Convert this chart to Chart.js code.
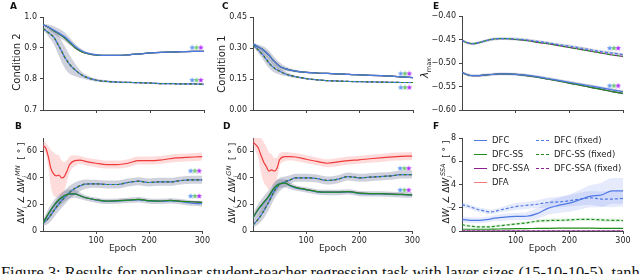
<!DOCTYPE html>
<html>
<head>
<meta charset="utf-8">
<script src="https://cdn.jsdelivr.net/npm/chart.js@4.4.0/dist/chart.umd.min.js"></script>
<style>
body{margin:0;width:640px;height:274px;background:#fff;position:relative;overflow:hidden;font-family:'DejaVu Sans',sans-serif;color:#222;}
canvas{position:absolute;}
.lab{position:absolute;font-weight:bold;font-size:9px;line-height:9px;color:#111;}
.yt{position:absolute;font-size:10px;line-height:12px;white-space:nowrap;transform:translate(-50%,-50%) rotate(-90deg);}
.yt i{font-style:italic;}
.yt sub,.yt sup{font-size:6.5px;line-height:0;}
#legend{position:absolute;left:474px;top:134px;font-size:8.5px;}
.li{position:absolute;white-space:nowrap;height:12px;line-height:12px;}
.li span.s{position:absolute;left:0;top:6px;width:13px;height:0;}
.li span.t{position:absolute;left:18px;top:0;}
#caption{position:absolute;left:1px;top:265px;font-family:'Liberation Serif',serif;font-size:16.4px;line-height:16px;white-space:nowrap;color:#111;}
</style>
</head>
<body>
<canvas id="cA" width="212" height="122" style="left:0;top:0"></canvas>
<canvas id="cC" width="210" height="122" style="left:212px;top:0"></canvas>
<canvas id="cE" width="218" height="122" style="left:422px;top:0"></canvas>
<canvas id="cB" width="212" height="132" style="left:0;top:122px"></canvas>
<canvas id="cD" width="210" height="132" style="left:212px;top:122px"></canvas>
<canvas id="cF" width="218" height="132" style="left:422px;top:122px"></canvas>

<div class="lab" style="left:10px;top:2px">A</div>
<div class="lab" style="left:222px;top:2px">C</div>
<div class="lab" style="left:433px;top:2px">E</div>
<div class="lab" style="left:15px;top:122px">B</div>
<div class="lab" style="left:223px;top:122px">D</div>
<div class="lab" style="left:433px;top:122px">F</div>

<div class="yt" style="left:17px;top:62px">Condition 2</div>
<div class="yt" style="left:222px;top:64px">Condition 1</div>
<div class="yt" style="left:425px;top:68px"><i>λ</i><sub>max</sub></div>
<div class="yt" style="left:21px;top:183px;font-size:9px">Δ<i>W<sub>i</sub></i> ∠ Δ<i>W<sub>i</sub></i><sup><i>MN</i></sup> &nbsp;[ ° ]</div>
<div class="yt" style="left:232px;top:183px;font-size:9px">Δ<i>W<sub>i</sub></i> ∠ Δ<i>W<sub>i</sub></i><sup><i>GN</i></sup> &nbsp;[ ° ]</div>
<div class="yt" style="left:446px;top:182px;font-size:9px">Δ<i>W<sub>i</sub></i> ∠ Δ<i>W<sub>i</sub></i><sup><i>SSA</i></sup> &nbsp;[ ° ]</div>

<div id="legend"></div>
<div id="caption">Figure 3: Results for nonlinear student-teacher regression task with layer sizes (15-10-10-5), tanh</div>

<script>
Chart.defaults.font.family = 'DejaVu Sans'

// epochs
const epochs = [0,10,20,30,40,50,60,70,80,100,120,140,160,180,200,220,240,260,280,300]
const dfaEpochs = [0,5,10,15,20,25,30,35,40,45,50,60,70,80,100,120,140,160,180,200,220,250,270,300]
const xTicks = [100,200,300]

// A: condition 2
const aSolid   = [0.975,0.968,0.958,0.948,0.937,0.921,0.905,0.893,0.885,0.878,0.876,0.876,0.878,0.881,0.884,0.886,0.887,0.888,0.889,0.889]
const aSolidSS = [0.975,0.967,0.956,0.945,0.933,0.917,0.901,0.890,0.883,0.877,0.876,0.876,0.878,0.881,0.884,0.886,0.887,0.888,0.889,0.889]
const aSolidSd = [0.004,0.008,0.012,0.014,0.014,0.012,0.009,0.006,0.004,0.003,0.002,0.002,0.002,0.002,0.002,0.002,0.002,0.002,0.002,0.002]
const aFixed   = [0.963,0.950,0.935,0.905,0.872,0.846,0.829,0.815,0.806,0.796,0.792,0.790,0.789,0.788,0.787,0.785,0.785,0.784,0.784,0.783]
const aFixedSd = [0.006,0.012,0.022,0.032,0.035,0.030,0.020,0.012,0.008,0.005,0.004,0.003,0.003,0.003,0.003,0.003,0.003,0.003,0.003,0.003]
const aStarY = [0.902, 0.797]

// C: condition 1
const cSolid   = [0.320,0.305,0.289,0.265,0.235,0.212,0.200,0.193,0.188,0.182,0.179,0.177,0.175,0.172,0.170,0.168,0.166,0.164,0.160,0.157]
const cSolidSd = [0.006,0.012,0.018,0.022,0.022,0.018,0.012,0.008,0.006,0.004,0.004,0.003,0.003,0.003,0.003,0.003,0.003,0.003,0.003,0.003]
const cFixed   = [0.315,0.290,0.262,0.228,0.203,0.188,0.175,0.167,0.161,0.152,0.146,0.142,0.140,0.138,0.137,0.136,0.135,0.134,0.133,0.133]
const cFixedSd = [0.008,0.015,0.022,0.025,0.022,0.016,0.011,0.008,0.006,0.004,0.004,0.003,0.003,0.003,0.003,0.003,0.003,0.003,0.003,0.003]
const cStarY = [0.177, 0.110]

// E: lambda max
const eSolid    = [-0.520,-0.525,-0.527,-0.527,-0.526,-0.525,-0.524,-0.523,-0.523,-0.524,-0.526,-0.529,-0.533,-0.537,-0.541,-0.545,-0.549,-0.553,-0.557,-0.561]
const eSolidSS  = [-0.520,-0.525,-0.527,-0.527,-0.526,-0.525,-0.524,-0.523,-0.523,-0.524,-0.527,-0.530,-0.534,-0.538,-0.543,-0.547,-0.552,-0.556,-0.561,-0.565]
const eFixed    = [-0.452,-0.457,-0.459,-0.457,-0.454,-0.451,-0.449,-0.448,-0.448,-0.449,-0.451,-0.454,-0.457,-0.461,-0.464,-0.468,-0.472,-0.476,-0.479,-0.482]
const eFixedSS  = [-0.452,-0.457,-0.459,-0.457,-0.454,-0.451,-0.449,-0.448,-0.448,-0.450,-0.452,-0.456,-0.459,-0.463,-0.467,-0.471,-0.475,-0.479,-0.483,-0.486]
const eSd       = [0.003,0.003,0.003,0.003,0.003,0.003,0.003,0.003,0.003,0.003,0.003,0.003,0.003,0.003,0.003,0.003,0.003,0.003,0.003,0.003]
const eStarY = [-0.468, -0.548]

// B: angle with MN
const bDFA     = [64,62.5,56,47,43,41.5,42,40,41,45,50,53,53.4,52.4,51,50,50,51,53,53,53.4,55,55.4,56]
const bDFASd   = [3,4,8,14,16,16,15,13,11,8,6,4,3,3,3,3,3,3,3,3,3,3,3,3]
const bSolid   = [6,12.5,18.5,23,26,28,28,26.5,25,23.3,22.3,22.5,23,23.5,22.5,22.3,22.7,22,21,20.5]
const bSolidSS = [6,13,19,23.5,26.5,28,28,26.5,25,23.5,22.5,22.8,23.2,23.8,22.8,22.5,23,22.3,22,21.5]
const bSolidSd = [2,4,4.5,4.5,4,3.5,3,2.5,2,2,2,2,2,2,2,2,2,2,2,2]
const bFixed   = [6,9.5,15,20.5,25,29,32,34,35.3,35.5,35,35,36.5,37.5,36.5,37,37,38,38.5,38.5]
const bFixedSd = [2,4,5,5.5,5.5,5,4.5,4,3.5,3,3,3,3,3,3,3,3,3,3,3]
const bStarY = [45.4, 26.4]

// D: angle with GN
const dDFA     = [67,65,62.5,57,52,48.6,45,46,45,47,53.6,56,56,55.7,54,52.4,51,52,53,53.6,54.4,55.4,56,56.4]
const dDFASd   = [3,5,8,13,15,15,14,12,10,8,5,3.5,3,3,3,3,3,3,3,3,3,3,3,3]
const dSolid   = [10,16,21,26,32,35.5,36,34,32.5,31,29.5,29,29,29.5,28.2,28,28,27.5,27.3,27]
const dSolidSS = [10,16.5,21.5,26.5,32.5,35.5,36,34.2,32.8,31.2,29.7,29.2,29.3,29.7,28.5,28.2,28.2,27.8,27.5,27.2]
const dSolidSd = [3,4.5,5,5,4.5,3.5,3,2.5,2,2,2,2,2,2,2,2,2,2,2,2]
const dFixed   = [4.5,9,15,22,30,35,37,38.5,40,40,39.5,38,39,41,40,40.5,41,41.5,42.5,42.5]
const dFixedSd = [2,4,5.5,6,6,5,4,3.5,3,3,3,3,3,3,3,3,3,3,3,3]
const dStarY = [47.3, 31]

// F: angle with SSA
const fDFC        = [1.0,0.95,0.92,0.92,0.95,1.0,1.1,1.15,1.2,1.25,1.27,1.5,1.95,2.2,2.4,2.7,3.0,3.1,3.45,3.45]
const fDFCSd      = [0.25,0.25,0.25,0.25,0.25,0.25,0.25,0.3,0.3,0.3,0.35,0.45,0.55,0.65,0.75,0.85,0.95,1.05,1.1,1.1]
const fDFCFixed   = [2.25,2.15,2.0,1.85,1.75,1.65,1.68,1.8,1.9,2.1,2.2,2.3,2.45,2.5,2.6,2.75,2.85,2.75,2.75,2.8]
const fDFCFixedSd = [0.2,0.2,0.2,0.2,0.2,0.2,0.2,0.2,0.25,0.3,0.3,0.35,0.4,0.45,0.5,0.55,0.6,0.65,0.7,0.7]
const fSS         = [0.15,0.15,0.15,0.15,0.15,0.15,0.16,0.17,0.18,0.2,0.21,0.22,0.23,0.24,0.25,0.25,0.24,0.23,0.22,0.22]
const fSSFixed    = [0.55,0.45,0.4,0.35,0.35,0.35,0.4,0.45,0.5,0.6,0.7,0.85,0.9,0.92,0.95,1.0,1.0,0.95,0.92,0.9]
const fSSFixedSd  = [0.1,0.1,0.1,0.1,0.1,0.1,0.1,0.1,0.1,0.12,0.12,0.14,0.15,0.15,0.15,0.15,0.15,0.15,0.15,0.15]
const fSSA        = [0,0,0,0,0,0,0,0,0,0,0,0,0,0,0,0,0,0,0,0]
const fSSAFixed   = [0,0,0,0,0,0,0,0,0,0,0,0,0,0,0,0,0,0,0,0]

const starX1 = [278,286,294]
const starX2 = [277,285,293]
const starX3 = [275,283,291]

// colours
const cDFC = '#4f79e3', cSS = '#1e8c1e', cSSA = '#8e1e8e', cDFA = '#f23a3a'
const bandGray = 'rgba(95,105,140,0.30)', bandPink = 'rgba(255,140,140,0.30)'
const bandBlue = 'rgba(110,140,240,0.18)', bandGreen = 'rgba(90,190,90,0.18)'
const starCols = ['#5f95f5', '#6cc46c', '#b02cff']

function pts(xs, ys){ return xs.map((x,i) => ({x: x, y: ys[i]})) }

function line(xs, ys, color, dash, order, off){
  return {data: pts(xs, ys), borderColor: color, borderWidth: 1.2, borderDash: dash ? [3,2] : [],
    borderDashOffset: off || 0, pointRadius: 0, fill: false, cubicInterpolationMode: 'monotone', order: order}
}

function band(xs, ys, sd, color){
  return [
    {data: xs.map((x,i) => ({x: x, y: ys[i] + sd[i]})), borderWidth: 0, pointRadius: 0, backgroundColor: color, fill: '+1', cubicInterpolationMode: 'monotone', order: 20},
    {data: xs.map((x,i) => ({x: x, y: ys[i] - sd[i]})), borderWidth: 0, pointRadius: 0, backgroundColor: color, fill: false, cubicInterpolationMode: 'monotone', order: 20}
  ]
}

function starImg(color){
  const c = document.createElement('canvas')
  c.width = 6; c.height = 6
  const g = c.getContext('2d')
  g.fillStyle = color
  g.beginPath()
  for(let k = 0; k < 10; k++){
    const r = k % 2 ? 1.3 : 3
    const a = -Math.PI/2 + k*Math.PI/5
    g.lineTo(3 + r*Math.cos(a), 3.3 + r*Math.sin(a))
  }
  g.closePath(); g.fill()
  return c
}

function stars(xs, ys){
  return xs.map((x,k) => ({data: ys.map(y => ({x: x, y: y})), showLine: false, pointStyle: starImg(starCols[k]),
    pointRadius: 3, order: 0}))
}

function makeChart(id, datasets, o){
  new Chart(document.getElementById(id), {
    type: 'line',
    data: {datasets: datasets},
    options: {
      responsive: false, animation: false, events: [],
      layout: {padding: {top: o.pt, right: o.pr, left: 0, bottom: 0}},
      plugins: {legend: {display: false}, tooltip: {enabled: false}},
      scales: {
        x: {
          type: 'linear', min: 0, max: 300,
          afterBuildTicks: s => { s.ticks = xTicks.map(v => ({value: v})) },
          afterFit: s => { s.height = o.xh },
          grid: {drawOnChartArea: false, tickLength: 3, color: '#444'},
          border: {color: '#444'},
          ticks: {display: o.xlab, font: {size: 8}, color: '#222', padding: 2, maxRotation: 0},
          title: {display: o.xlab, text: 'Epoch', font: {size: 9}, color: '#222', padding: {top: 0, bottom: 0}}
        },
        y: {
          min: o.ymin, max: o.ymax,
          afterBuildTicks: s => { s.ticks = o.yticks.map(v => ({value: v})) },
          afterFit: s => { s.width = o.yw },
          grid: {drawOnChartArea: false, tickLength: 3, color: '#444'},
          border: {color: '#444'},
          ticks: {font: {size: 8}, color: '#222', padding: 3, callback: o.fmt}
        }
      }
    }
  })
}

const minus = v => (v < 0 ? '\u2212' : '') + Math.abs(v).toFixed(2)

// A
makeChart('cA', [
  ...band(epochs, aSolid, aSolidSd, bandGray),
  ...band(epochs, aFixed, aFixedSd, bandGray),
  line(epochs, aSolidSS, cSSA, false, 5),
  line(epochs, aSolidSS, cSS, false, 4),
  line(epochs, aSolid, cDFC, false, 3),
  line(epochs, aFixed, cSSA, true, 5),
  line(epochs, aFixed, cSS, true, 4),
  line(epochs, aFixed, cDFC, true, 3, 2.5),
  ...stars(starX1, aStarY)
], {pt: 17, pr: 8, xh: 12, yw: 43, ymin: 0.7, ymax: 1.0, yticks: [0.7,0.8,0.9,1.0], fmt: v => v.toFixed(1), xlab: false})

// C
makeChart('cC', [
  ...band(epochs, cSolid, cSolidSd, bandGray),
  ...band(epochs, cFixed, cFixedSd, bandGray),
  line(epochs, cSolid, cSSA, false, 5),
  line(epochs, cSolid, cSS, false, 4),
  line(epochs, cSolid, cDFC, false, 3),
  line(epochs, cFixed, cSSA, true, 5),
  line(epochs, cFixed, cSS, true, 4),
  line(epochs, cFixed, cDFC, true, 3, 2.5),
  ...stars(starX2, cStarY)
], {pt: 17, pr: 9, xh: 12, yw: 41, ymin: 0, ymax: 0.45, yticks: [0,0.15,0.30,0.45], fmt: v => v.toFixed(2), xlab: false})

// E
makeChart('cE', [
  ...band(epochs, eSolid, eSd, bandGray),
  ...band(epochs, eFixed, eSd, bandGray),
  line(epochs, eSolidSS, cSSA, false, 5),
  line(epochs, eSolidSS, cSS, false, 4),
  line(epochs, eSolid, cDFC, false, 3),
  line(epochs, eFixedSS, cSSA, true, 5),
  line(epochs, eFixedSS, cSS, true, 4, 2.5),
  line(epochs, eFixed, cDFC, true, 3),
  ...stars(starX3, eStarY)
], {pt: 16, pr: 17, xh: 12, yw: 40, ymin: -0.6, ymax: -0.4, yticks: [-0.6,-0.55,-0.5,-0.45,-0.4], fmt: minus, xlab: false})

// B
makeChart('cB', [
  ...band(dfaEpochs, bDFA, bDFASd, bandPink),
  ...band(epochs, bSolid, bSolidSd, bandGray),
  ...band(epochs, bFixed, bFixedSd, bandGray),
  line(dfaEpochs, bDFA, cDFA, false, 2),
  line(epochs, bSolidSS, cSSA, false, 5),
  line(epochs, bSolid, cDFC, false, 4),
  line(epochs, bSolidSS, cSS, false, 3),
  line(epochs, bFixed, cSSA, true, 5),
  line(epochs, bFixed, cSS, true, 4),
  line(epochs, bFixed, cDFC, true, 3, 2.5),
  ...stars(starX1, bStarY)
], {pt: 16, pr: 8, xh: 23, yw: 43, ymin: 0, ymax: 70, yticks: [0,20,40,60], fmt: v => v, xlab: true})

// D
makeChart('cD', [
  ...band(dfaEpochs, dDFA, dDFASd, bandPink),
  ...band(epochs, dSolid, dSolidSd, bandGray),
  ...band(epochs, dFixed, dFixedSd, bandGray),
  line(dfaEpochs, dDFA, cDFA, false, 2),
  line(epochs, dSolidSS, cSSA, false, 5),
  line(epochs, dSolid, cDFC, false, 4),
  line(epochs, dSolidSS, cSS, false, 3),
  line(epochs, dFixed, cSSA, true, 5),
  line(epochs, dFixed, cSS, true, 4),
  line(epochs, dFixed, cDFC, true, 3, 2.5),
  ...stars(starX2, dStarY)
], {pt: 16, pr: 9, xh: 23, yw: 41, ymin: 0, ymax: 70, yticks: [0,20,40,60], fmt: v => v, xlab: true})

// F
makeChart('cF', [
  ...band(epochs, fDFC, fDFCSd, bandBlue),
  ...band(epochs, fDFCFixed, fDFCFixedSd, bandBlue),
  ...band(epochs, fSSFixed, fSSFixedSd, bandGreen),
  line(epochs, fDFC, cDFC, false, 3),
  line(epochs, fDFCFixed, cDFC, true, 3),
  line(epochs, fSS, cSS, false, 3),
  line(epochs, fSSFixed, cSS, true, 3),
  line(epochs, fSSAFixed, cSSA, true, 2),
  line(epochs, fSSA, cSSA, false, 2)
], {pt: 16, pr: 17, xh: 23, yw: 40, ymin: 0, ymax: 8, yticks: [0,2,4,6,8], fmt: v => v, xlab: true})

// legend for F
const legendItems = [
  ['DFC', cDFC, false, 0, 0], ['DFC-SS', cSS, false, 0, 1], ['DFC-SSA', cSSA, false, 0, 2], ['DFA', '#f27a7a', false, 0, 3],
  ['DFC (fixed)', cDFC, true, 1, 0], ['DFC-SS (fixed)', cSS, true, 1, 1], ['DFC-SSA (fixed)', cSSA, true, 1, 2]
]
const legend = document.getElementById('legend')
legendItems.forEach(([txt, col, dash, c, r]) => {
  const d = document.createElement('div')
  d.className = 'li'
  d.style.left = (c * 62) + 'px'
  d.style.top = (r * 14) + 'px'
  d.innerHTML = '<span class="s" style="border-top:1.5px ' + (dash ? 'dashed ' : 'solid ') + col + '"></span><span class="t">' + txt + '</span>'
  legend.appendChild(d)
})
</script>
</body>
</html>
